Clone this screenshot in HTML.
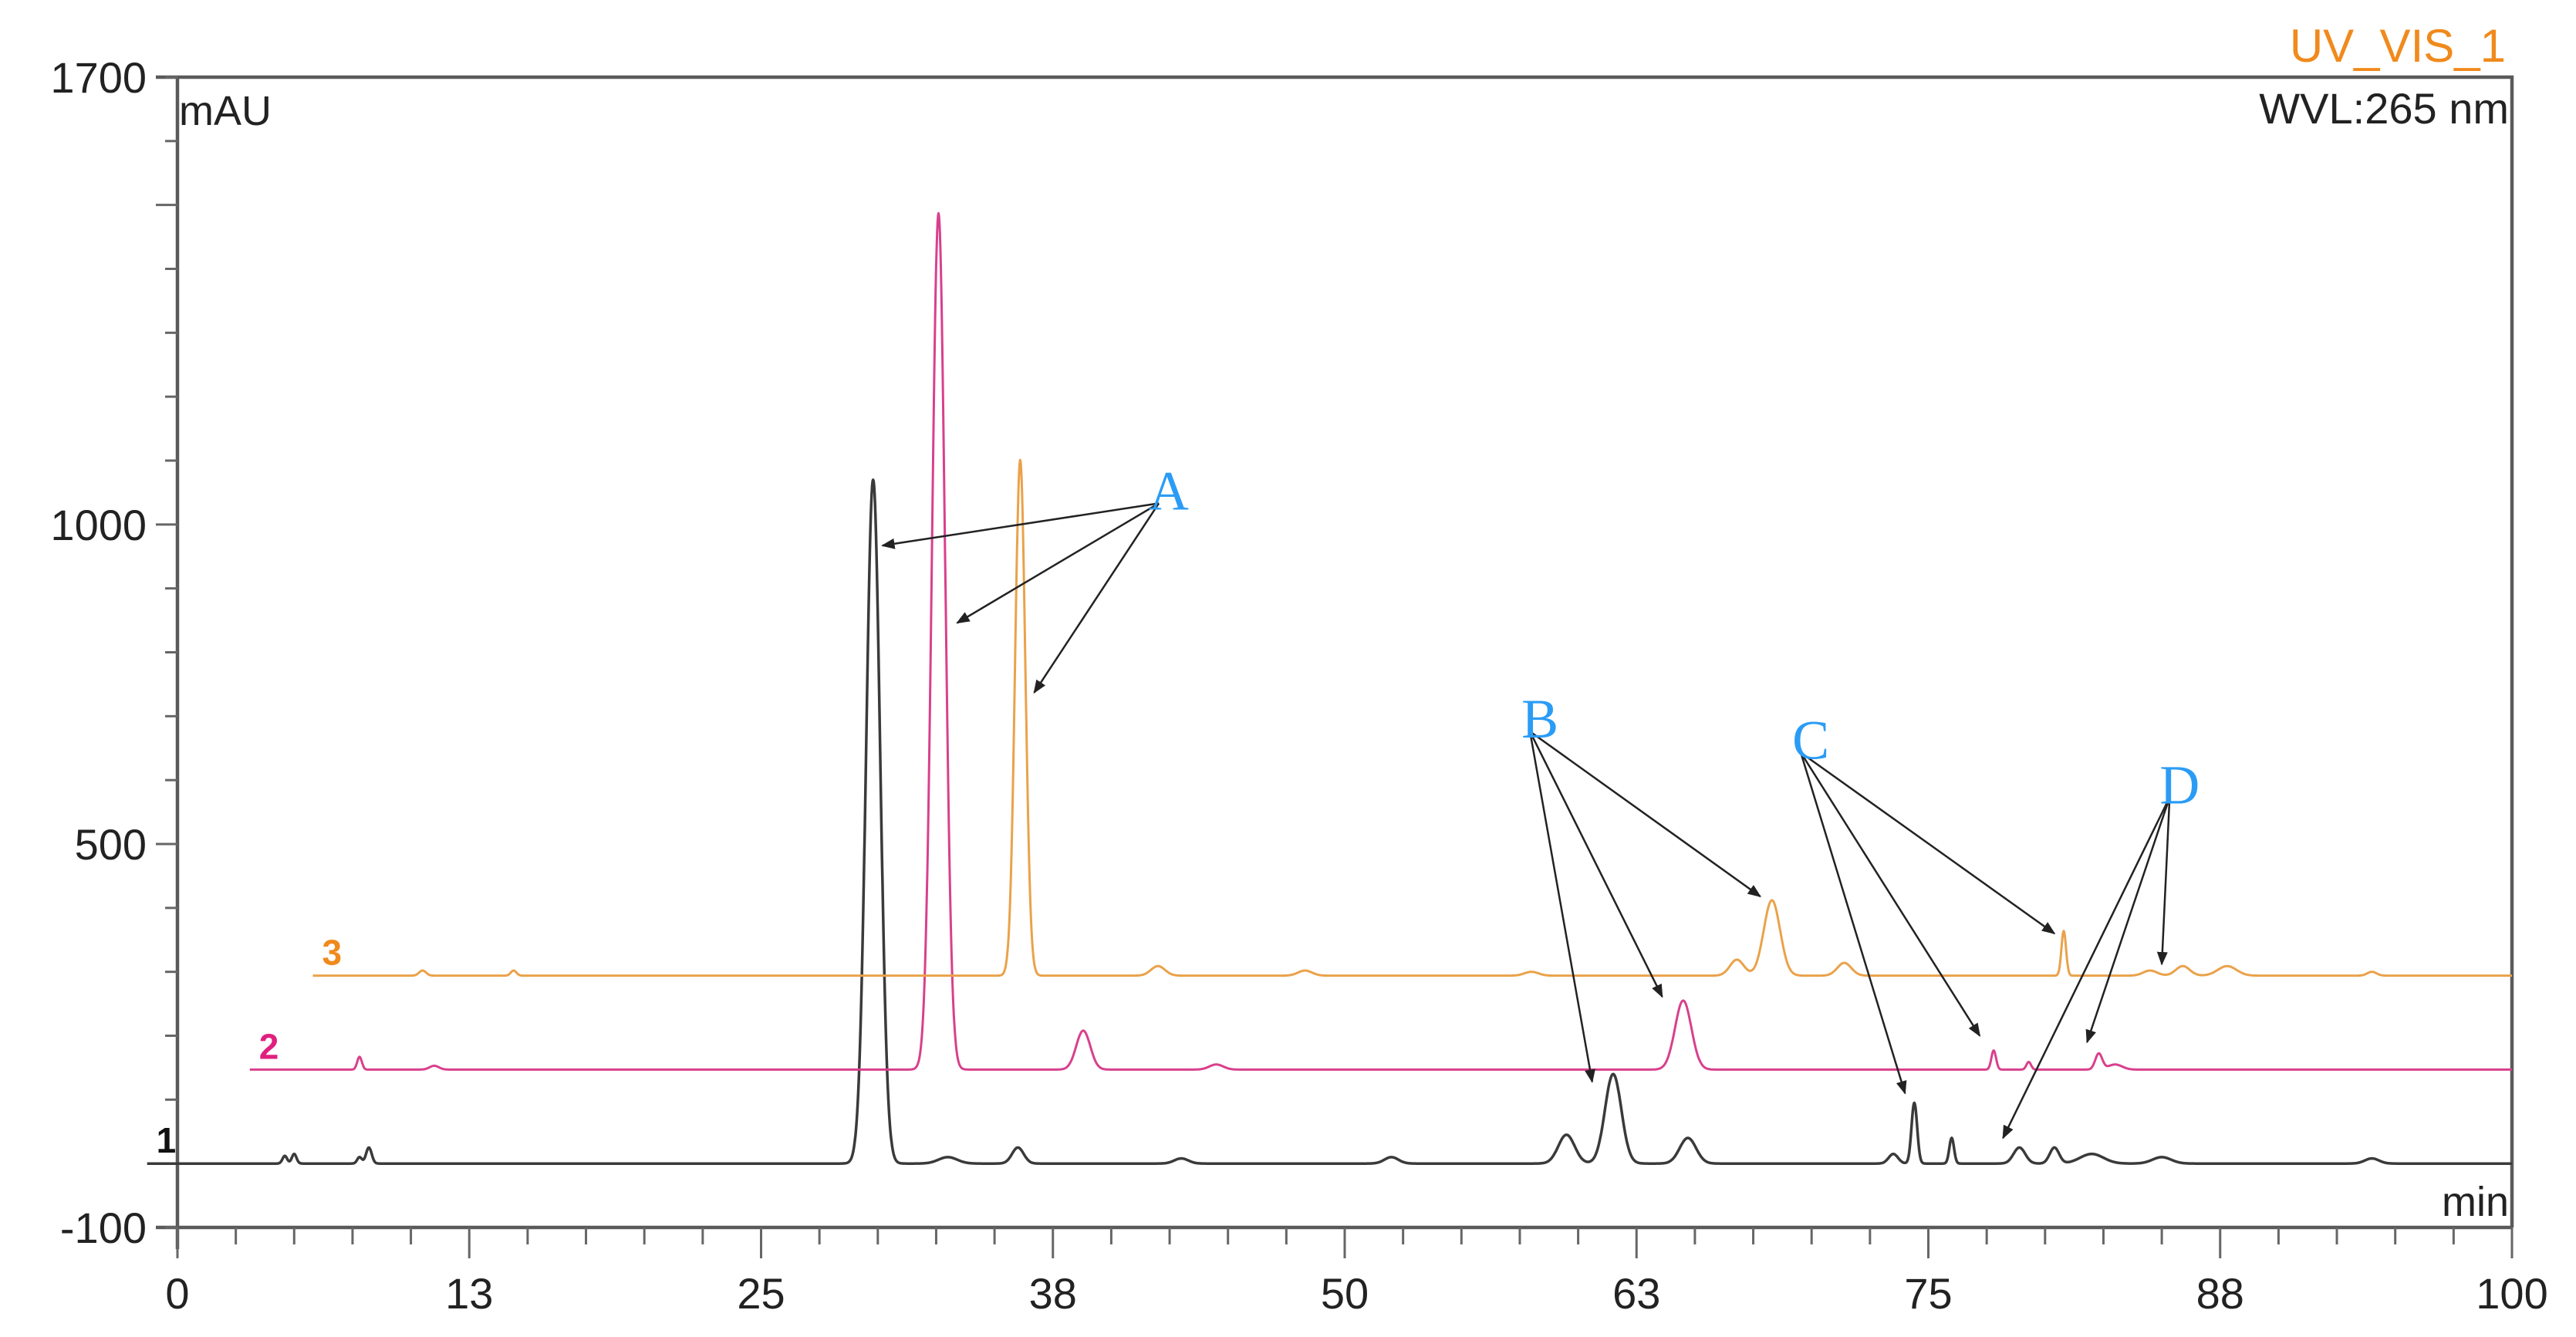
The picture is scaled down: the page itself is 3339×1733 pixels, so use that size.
<!DOCTYPE html>
<html><head><meta charset="utf-8"><style>
html,body{margin:0;padding:0;background:#fff;}
svg{display:block;font-family:"Liberation Sans",sans-serif;}
</style></head><body>
<svg id="chart" width="3339" height="1733" viewBox="0 0 3339 1733" xmlns="http://www.w3.org/2000/svg">
<g id="axes"></g>
<g id="traces"></g>
<g id="notes"></g>
</svg>
<script>
// ---- data ----
const xTickValues = [0, 12.5, 25, 37.5, 50, 62.5, 75, 87.5, 100];
const xTickLabels = ["0", "13", "25", "38", "50", "63", "75", "88", "100"];
const yTickValues = [1700, 1000, 500, -100];
const yTickLabels = ["1700", "1000", "500", "-100"];
const traceNames = ["1", "2", "3"];
const traceBaselines = [0, 147, 294];
const traceStarts = [-1.3, 3.1, 5.8];
// peaks: retention time (min), height (mAU), width sigma (min)
const peakTimes1 = [4.6, 5.0, 7.8, 8.2, 29.8, 33.0, 36.0, 43.0, 52.0, 59.5, 61.5, 64.7, 73.5, 74.4, 76.0, 78.9, 80.4, 82.0, 85.0, 94.0];
const peakHeights1 = [12, 15, 10, 25, 1070, 10, 25, 8, 10, 45, 140, 40, 15, 95, 40, 25, 25, 15, 10, 8];
const peakWidths1 = [0.1, 0.1, 0.1, 0.12, 0.3, 0.4, 0.25, 0.3, 0.3, 0.35, 0.35, 0.35, 0.2, 0.12, 0.1, 0.25, 0.2, 0.5, 0.4, 0.3];
const peakTimes2 = [7.8, 11.0, 32.6, 38.8, 44.5, 64.5, 77.8, 79.3, 82.3, 83.0];
const peakHeights2 = [20, 6, 1340, 61, 8, 108, 30, 12, 25, 8];
const peakWidths2 = [0.1, 0.2, 0.28, 0.3, 0.3, 0.35, 0.1, 0.1, 0.15, 0.3];
const peakTimes3 = [10.5, 14.4, 36.1, 42.0, 48.3, 58.0, 66.8, 68.3, 71.4, 80.8, 84.5, 85.9, 87.8, 94.0];
const peakHeights3 = [8, 8, 807, 15, 8, 6, 25, 118, 20, 70, 8, 15, 15, 6];
const peakWidths3 = [0.15, 0.12, 0.22, 0.3, 0.3, 0.3, 0.3, 0.35, 0.3, 0.1, 0.3, 0.3, 0.4, 0.2];
const traceColors = ["#3a3a3a", "#d8408c", "#eaa24a"];
const labelColors = ["#111111", "#e0207f", "#f08a1c"];

// annotations: label, label time/value, list of target [time, value]
const noteLabels = ["A", "B", "C", "D"];
const notePos = [[42.3, 1050], [58.2, 693], [69.8, 660], [85.6, 590]];
const noteTargets = [
  [[30.2, 967], [33.4, 846], [36.7, 737]],
  [[60.6, 128], [63.6, 261], [67.8, 418]],
  [[74.0, 110], [77.2, 200], [80.4, 360]],
  [[78.2, 40], [81.8, 190], [85.0, 312]]
];

// ---- scales ----
const X0 = 230, X1 = 3256, Y0 = 100, Y1 = 1591;
const xs = t => X0 + (t - 0) / 100 * (X1 - X0);
const ys = v => Y1 - (v + 100) / 1800 * (Y1 - Y0);
const NS = "http://www.w3.org/2000/svg";
function mk(tag, attrs, parent) {
  const e = document.createElementNS(NS, tag);
  for (const k in attrs) e.setAttribute(k, attrs[k]);
  parent.appendChild(e);
  return e;
}
const axes = document.getElementById('axes');
const traces = document.getElementById('traces');
const notes = document.getElementById('notes');

// frame
const frame = mk('path', {d: `M${X0},${Y0} H${X1} V${Y1} M${X0},${Y0 - 0} V${Y1 + 28} M${X0 - 28},${Y0} H${X0} M${X0 - 28},${Y1} H${X1}`, stroke: '#5a5a5a', 'stroke-width': 4.5, fill: 'none'}, axes);



// y minor ticks
for (let v = -100; v <= 1700; v += 100) {
  const big = v % 500 === 0;
  const tk = mk('line', {x1: X0 - (big ? 28 : 16), x2: X0, y1: ys(v), y2: ys(v), stroke: '#666', 'stroke-width': 3}, axes);
  
  
}
yTickValues.forEach((v, i) => {
  const t = mk('text', {x: X0 - 40, y: ys(v) + 20, 'text-anchor': 'end', 'font-size': 56, fill: '#222'}, axes);
  t.textContent = yTickLabels[i];
  
  
});
// x ticks
for (let t = 0; t <= 100.01; t += 2.5) {
  const big = Math.abs(t / 12.5 - Math.round(t / 12.5)) < 1e-6;
  const tk = mk('line', {x1: xs(t), x2: xs(t), y1: Y1, y2: Y1 + (big ? 40 : 22), stroke: '#666', 'stroke-width': 3}, axes);
  
  
}
xTickValues.forEach((v, i) => {
  const t = mk('text', {x: xs(v), y: Y1 + 105, 'text-anchor': 'middle', 'font-size': 56, fill: '#222'}, axes);
  t.textContent = xTickLabels[i];
  
  
});
let tt = mk('text', {x: X0 + 2, y: Y0 + 62, 'font-size': 54, fill: '#222'}, axes);
tt.textContent = 'mAU';


tt = mk('text', {x: X1 - 4, y: Y1 - 15, 'text-anchor': 'end', 'font-size': 54, fill: '#222'}, axes);
tt.textContent = 'min';


tt = mk('text', {x: X1 - 8, y: 80, 'text-anchor': 'end', 'font-size': 60, fill: '#f08a1c'}, axes);
tt.textContent = 'UV_VIS_1';


tt = mk('text', {x: X1 - 4, y: 160, 'text-anchor': 'end', 'font-size': 56, fill: '#222'}, axes);
tt.textContent = 'WVL:265 nm';



// traces
const allTimes = [peakTimes1, peakTimes2, peakTimes3];
const allHeights = [peakHeights1, peakHeights2, peakHeights3];
const allWidths = [peakWidths1, peakWidths2, peakWidths3];
for (let k = 0; k < 3; k++) {
  let d = '';
  for (let t = traceStarts[k]; t <= 100; t += 0.02) {
    let v = traceBaselines[k];
    const T = allTimes[k], H = allHeights[k], W = allWidths[k];
    for (let j = 0; j < T.length; j++) {
      const z = (t - T[j]) / W[j];
      if (Math.abs(z) < 6) v += H[j] * Math.exp(-0.5 * z * z);
    }
    d += (d ? 'L' : 'M') + xs(t).toFixed(1) + ',' + ys(v).toFixed(1);
  }
  const p = mk('path', {d: d, stroke: traceColors[k], 'stroke-width': k === 0 ? 3.5 : 3, fill: 'none', 'stroke-linejoin': 'round'}, traces);
  
  
  const lb = mk('text', {x: xs(traceStarts[k]) + 12, y: ys(traceBaselines[k]) - 14, 'font-size': 46, 'font-weight': 'bold', fill: labelColors[k]}, traces);
  lb.textContent = traceNames[k];
  
  
}

// annotations
const defs = mk('defs', {}, notes);
const mkr = mk('marker', {id: 'ah', viewBox: '0 0 10 10', refX: 9, refY: 5, markerWidth: 7, markerHeight: 7, orient: 'auto'}, defs);
mk('path', {d: 'M0,1 L10,5 L0,9 z', fill: '#222'}, mkr);
noteLabels.forEach((L, i) => {
  const lx = xs(notePos[i][0]), ly = ys(notePos[i][1]);
  noteTargets[i].forEach(tg => {
    const ln = mk('line', {x1: lx - 8, y1: ly + 14, x2: xs(tg[0]), y2: ys(tg[1]), stroke: '#222', 'stroke-width': 2.5, 'marker-end': 'url(#ah)'}, notes);
    
    
  });
  const t = mk('text', {x: lx + 5, y: ly + 22, 'text-anchor': 'middle', 'font-size': 72, fill: '#2b9cf5', 'font-family': '"Liberation Serif", serif'}, notes);
  t.textContent = L;
  
  
});
</script>
</body></html>
